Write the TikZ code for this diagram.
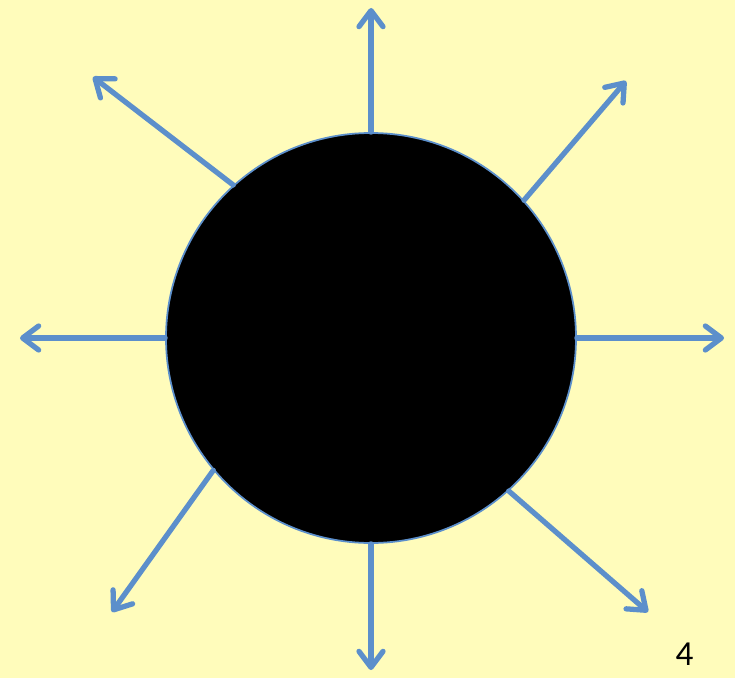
\documentclass[tikz,border=0pt]{standalone}
\usepackage{fontspec}
\setmainfont{Carlito}
\usetikzlibrary{arrows.meta}
\definecolor{rayblue}{RGB}{92,143,203}
\definecolor{paper}{RGB}{255,252,187}

\begin{document}
\begin{tikzpicture}[
    x=0.03cm, y=-0.03cm,
    sun/.style={circle, draw=rayblue, line width=1.5pt, fill=black, minimum size=12.3cm, inner sep=0pt},
    ray/.style={draw=rayblue, line width=4.5pt, line cap=round,
      -{Straight Barb[length=0.48cm, width=0.72cm, round]}},
    pagenum/.style={font=\fontsize{30}{31}\selectfont, text=black}
]
  % Background page, fixes the bounding box.
  \fill[paper] (0,0) rectangle (735,678);
  \useasboundingbox (0,0) rectangle (735,678);
  \node[sun] (sun) at (371,338) {};
  % One ray per direction, leaving the rim.
  \foreach \ang/\ex/\ey/\name in {90/371/8/n, 270/371/670/s, 180/20/338/w, 0/724/338/e,
      132.8/93/77/nw, 42.5/626/81/ne, 220.1/112/612/sw, 312.4/648/612/se} {
    \coordinate (tip-\name) at (\ex,\ey);
    \draw[ray] (sun.\ang) -- (tip-\name);
  }
  \node[pagenum] (page) at (684.5,654) {4};
\end{tikzpicture}
\end{document}
